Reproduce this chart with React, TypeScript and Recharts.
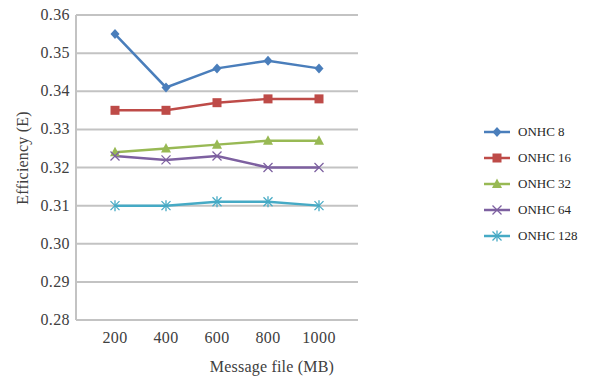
import React from "react";
import { LineChart, Line, XAxis, YAxis, CartesianGrid, Legend, Label } from "recharts";

const fileSizes = ["200", "400", "600", "800", "1000"];
const onhc8 = [0.355, 0.341, 0.346, 0.348, 0.346];
const onhc16 = [0.335, 0.335, 0.337, 0.338, 0.338];
const onhc32 = [0.324, 0.325, 0.326, 0.327, 0.327];
const onhc64 = [0.323, 0.322, 0.323, 0.32, 0.32];
const onhc128 = [0.31, 0.31, 0.311, 0.311, 0.31];
const yTicks = [0.28, 0.29, 0.3, 0.31, 0.32, 0.33, 0.34, 0.35, 0.36];

type Shape = "diamond" | "square" | "triangle" | "cross" | "star";

const series: { key: string; name: string; color: string; shape: Shape; values: number[] }[] = [
  { key: "s8", name: "ONHC 8", color: "#4a7ebb", shape: "diamond", values: onhc8 },
  { key: "s16", name: "ONHC 16", color: "#be4b48", shape: "square", values: onhc16 },
  { key: "s32", name: "ONHC 32", color: "#98b954", shape: "triangle", values: onhc32 },
  { key: "s64", name: "ONHC 64", color: "#7d60a0", shape: "cross", values: onhc64 },
  { key: "s128", name: "ONHC 128", color: "#46aac5", shape: "star", values: onhc128 },
];

const data = fileSizes.map((size, i) => {
  const row: Record<string, string | number> = { size };
  series.forEach((s) => {
    row[s.key] = s.values[i];
  });
  return row;
});

const FONT = "'Liberation Serif', 'Times New Roman', serif";
const TEXT = "#404040";
const GRID = "#c3c3c3";
const textStyle: React.CSSProperties = { fontFamily: FONT, fontSize: 16, fill: TEXT, letterSpacing: 0.4 };

function Marker({ shape, color, cx, cy }: { shape: Shape; color: string; cx: number; cy: number }) {
  switch (shape) {
    case "diamond":
      return (
        <polygon
          points={`${cx},${cy - 5} ${cx + 4.5},${cy} ${cx},${cy + 5} ${cx - 4.5},${cy}`}
          fill={color}
        />
      );
    case "square":
      return <rect x={cx - 4.5} y={cy - 4.5} width={9} height={9} fill={color} />;
    case "triangle":
      return (
        <polygon points={`${cx},${cy - 5.5} ${cx + 5},${cy + 4} ${cx - 5},${cy + 4}`} fill={color} />
      );
    case "cross":
      return (
        <g stroke={color} strokeWidth={1.3}>
          <line x1={cx - 4.5} y1={cy - 4.5} x2={cx + 4.5} y2={cy + 4.5} />
          <line x1={cx - 4.5} y1={cy + 4.5} x2={cx + 4.5} y2={cy - 4.5} />
        </g>
      );
    default:
      return (
        <g stroke={color} strokeWidth={1.3}>
          <line x1={cx - 4.5} y1={cy - 4.5} x2={cx + 4.5} y2={cy + 4.5} />
          <line x1={cx - 4.5} y1={cy + 4.5} x2={cx + 4.5} y2={cy - 4.5} />
          <line x1={cx} y1={cy - 5.5} x2={cx} y2={cy + 5.5} />
        </g>
      );
  }
}

const renderDot = (shape: Shape, color: string) => (props: any) => {
  const { cx, cy, index } = props;
  if (cx == null || cy == null) return <g key={`d-${index}`} />;
  return (
    <g key={`d-${shape}-${index}`}>
      <Marker shape={shape} color={color} cx={cx} cy={cy} />
    </g>
  );
};

function XTick({ x, y, payload }: any) {
  return (
    <text x={x} y={y} dy={13} textAnchor="middle" style={textStyle}>
      {payload.value}
    </text>
  );
}

function YTick({ x, y, payload }: any) {
  return (
    <text x={x} y={y} dy={5} textAnchor="end" style={textStyle}>
      {Number(payload.value).toFixed(2)}
    </text>
  );
}

function LegendBox() {
  return (
    <div style={{ fontFamily: FONT, fontSize: 13, color: "#262626", lineHeight: "26px" }}>
      {series.map((s) => (
        <div key={s.key} style={{ display: "flex", alignItems: "center", height: 26 }}>
          <svg width={26} height={12} style={{ marginRight: 8 }}>
            <line x1={0} y1={6} x2={26} y2={6} stroke={s.color} strokeWidth={2.5} />
            <Marker shape={s.shape} color={s.color} cx={13} cy={6} />
          </svg>
          <span>{s.name}</span>
        </div>
      ))}
    </div>
  );
}

export default function App() {
  return (
    <div
      style={{
        position: "absolute",
        left: 0,
        top: 0,
        width: 592,
        height: 377,
        background: "#fff",
        fontFamily: FONT,
      }}
    >
      <LineChart width={592} height={377} data={data} margin={{ top: 15, right: 126, bottom: 0, left: 0 }}>
        <CartesianGrid vertical={false} stroke={GRID} strokeWidth={2} />
        <XAxis
          dataKey="size"
          padding={{ left: 39, right: 39 }}
          axisLine={{ stroke: GRID, strokeWidth: 2 }}
          tickLine={false}
          tickSize={0}
          tickMargin={10}
          tick={<XTick />}
          height={57}
        >
          <Label
            content={() => (
              <text x={272} y={372} textAnchor="middle" style={{ ...textStyle, letterSpacing: 0.2 }}>
                Message file (MB)
              </text>
            )}
          />
        </XAxis>
        <YAxis
          type="number"
          domain={[0.28, 0.36]}
          ticks={yTicks}
          axisLine={{ stroke: GRID, strokeWidth: 2 }}
          tickLine={false}
          tickSize={0}
          tickMargin={6}
          width={76}
          tick={<YTick />}
        >
          <Label
            content={() => (
              <text
                x={22}
                y={158}
                transform="rotate(-90 22 158)"
                textAnchor="middle"
                dominantBaseline="central"
                style={{ ...textStyle, letterSpacing: 0.2 }}
              >
                Efficiency (E)
              </text>
            )}
          />
        </YAxis>
        <Legend
          layout="vertical"
          align="right"
          verticalAlign="top"
          content={() => <LegendBox />}
          wrapperStyle={{ left: 484, top: 119, width: 108 }}
        />
        {series.map((s) => (
          <Line
            key={s.key}
            dataKey={s.key}
            name={s.name}
            type="linear"
            stroke={s.color}
            strokeWidth={2.5}
            dot={renderDot(s.shape, s.color)}
            activeDot={false}
            isAnimationActive={false}
          />
        ))}
      </LineChart>
    </div>
  );
}
